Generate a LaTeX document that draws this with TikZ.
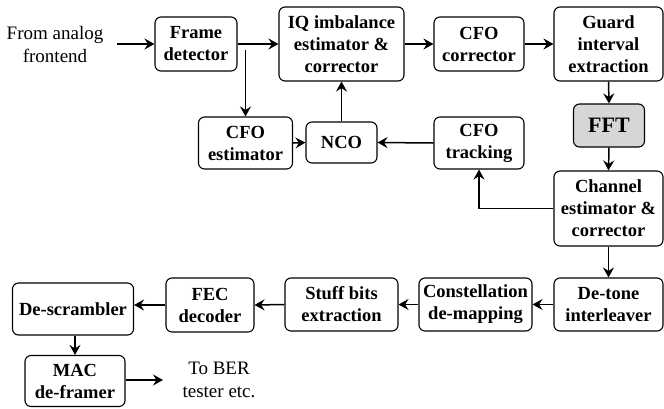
\documentclass[tikz,border=0pt]{standalone}
\usepackage{fontspec}
\setmainfont{Liberation Serif}
\usetikzlibrary{arrows.meta}

\tikzset{
  blk/.style={draw, line width=1.1pt, rounded corners=6pt, align=center,
    inner sep=0pt, font=\bfseries\fontsize{18.5}{22}\selectfont},
  fftblk/.style={blk, fill=black!16, font=\bfseries\fontsize{22}{26}\selectfont},
  plain/.style={align=center, inner sep=0pt, font=\fontsize{19}{23}\selectfont},
  arr/.style={line width=1.5pt, -{Stealth[length=10pt,width=11pt,inset=3.5pt]}},
}

\begin{document}
\begin{tikzpicture}[x=1pt, y=-1pt]
\useasboundingbox (0,0) rectangle (664,408);

% top row
\node[plain] (src) at (55,44) {From analog\\frontend};
\node[blk, minimum width=82pt, minimum height=54pt] (frame) at (196,44) {Frame\\detector};
\node[blk, minimum width=125pt, minimum height=74pt] (iq) at (341.5,44) {IQ imbalance\\estimator \&\\corrector};
\node[blk, minimum width=90pt, minimum height=54pt] (cfocorr) at (479,44) {CFO\\corrector};
\node[blk, minimum width=109pt, minimum height=74pt] (guard) at (608.5,44) {Guard\\interval\\extraction};

% second row
\node[blk, minimum width=94pt, minimum height=52pt] (cfoest) at (245.5,143) {CFO\\estimator};
\node[blk, minimum width=71pt, minimum height=41pt] (nco) at (341.5,142.5) {NCO};
\node[blk, minimum width=90pt, minimum height=52pt] (cfotrack) at (479,143) {CFO\\tracking};
\node[fftblk, minimum width=71pt, minimum height=43pt] (fft) at (609,125.5) {FFT};
\node[blk, minimum width=109pt, minimum height=75pt] (chan) at (608.5,208.5) {Channel\\estimator \&\\corrector};

% bottom rows
\node[blk, minimum width=109pt, minimum height=53pt] (detone) at (608.5,304.5) {De-tone\\interleaver};
\node[blk, minimum width=113pt, minimum height=53pt] (const) at (475.5,304.5) {Constellation\\de-mapping};
\node[blk, minimum width=113pt, minimum height=53pt] (stuff) at (341.5,304.5) {Stuff bits\\extraction};
\node[blk, minimum width=88pt, minimum height=54pt] (fec) at (210,305) {FEC\\decoder};
\node[blk, minimum width=121pt, minimum height=52pt] (descr) at (73,309) {De-scrambler};
\node[blk, minimum width=100pt, minimum height=51pt] (mac) at (75,381) {MAC\\de-framer};
\node[plain] (dst) at (219,380) {To BER\\tester etc.};

\coordinate (srcend) at (117,44);
\coordinate (tap) at (245.5,50);
\coordinate (dstend) at (163,380);

% connectors
\draw[arr] (srcend) -- (frame.west);
\draw[arr] (frame.east) -- (iq.west);
\draw[arr] (tap) -- (cfoest.north);
\draw[arr] (iq.east) -- (cfocorr.west);
\draw[arr] (cfocorr.east) -- (guard.west);
\draw[arr] (guard.south) -- (fft.north);
\draw[arr] (fft.south) -- (chan.north);
\draw[arr] (chan.west) -| (cfotrack.south);
\draw[arr] (cfotrack.west) -- (nco.east);
\draw[arr] (cfoest.east) -- (nco.west);
\draw[arr] (nco.north) -- (iq.south);
\draw[arr] (chan.south) -- (detone.north);
\draw[arr] (detone.west) -- (const.east);
\draw[arr] (const.west) -- (stuff.east);
\draw[arr] (stuff.west) -- (fec.east);
\draw[arr] (fec.west) -- (fec.west -| descr.east);
\draw[arr] (mac.north |- descr.south) -- (mac.north);
\draw[arr] (mac.east |- dstend) -- (dstend);
\end{tikzpicture}
\end{document}
